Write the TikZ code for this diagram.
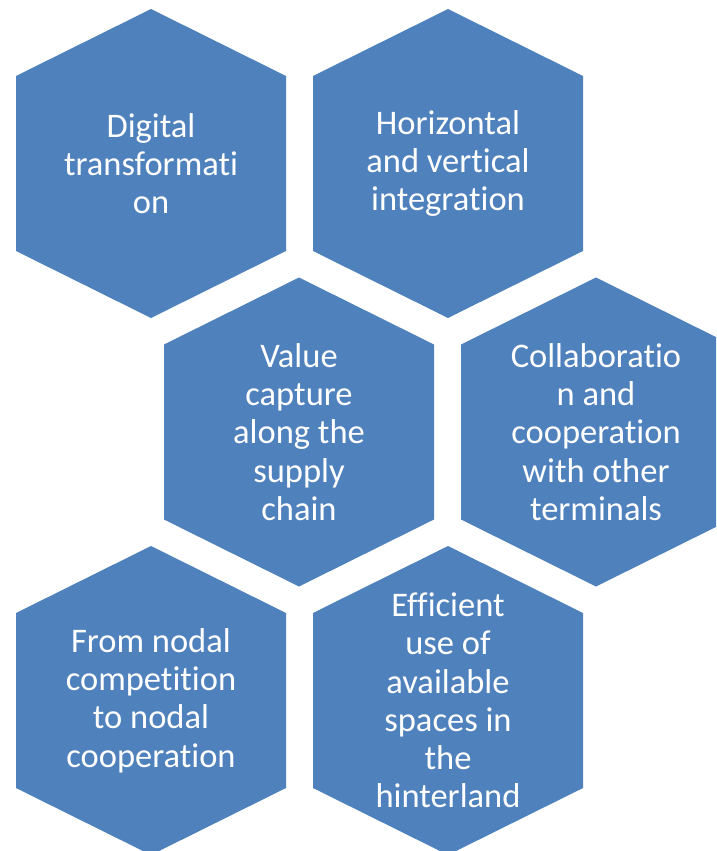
\documentclass[tikz,border=0pt]{standalone}
\usepackage{fontspec}
\setmainfont[Ligatures={NoCommon}]{Carlito}
\usetikzlibrary{backgrounds}
\definecolor{hexblue}{RGB}{79,129,189}
\tikzset{
  hextext/.style={text=white, align=center, inner sep=0pt,
    font=\fontsize{34.5}{38.2}\selectfont},
  hexfill/.style={fill=hexblue}
}
\newcommand\myhex[1]{\fill[hexfill] ([shift={(0,-154.5)}]#1) -- ++(135,67) -- ++(0,175) -- ++(-135,67) -- ++(-135,-67) -- ++(0,-175) -- cycle;}
\begin{document}
\begin{tikzpicture}[x=1pt,y=-1pt]
\useasboundingbox (0,0) rectangle (716,851);
\clip (0,0) rectangle (716,851);
\coordinate (c1) at (151,163.5);
\coordinate (c2) at (448,163.5);
\coordinate (c3) at (299,432);
\coordinate (c4) at (596,432);
\coordinate (c5) at (151,700.5);
\coordinate (c6) at (448,700.5);
\myhex{c1}
\myhex{c2}
\myhex{c3}
\myhex{c4}
\myhex{c5}
\myhex{c6}
\node[hextext] (h1) at (c1) {Digital\\transformati\\on};
\node[hextext] (h2) at (c2) {Horizontal\\and vertical\\integration};
\node[hextext] (h3) at (c3) {Value\\capture\\along the\\supply\\chain};
\node[hextext] (h4) at (c4) {Collaboratio\\n and\\cooperation\\with other\\terminals};
\node[hextext] (h5) at (c5) {From nodal\\competition\\to nodal\\cooperation};
\node[hextext] (h6) at (c6) {Efficient\\use of\\available\\spaces in\\the\\hinterland};
\end{tikzpicture}
\end{document}
